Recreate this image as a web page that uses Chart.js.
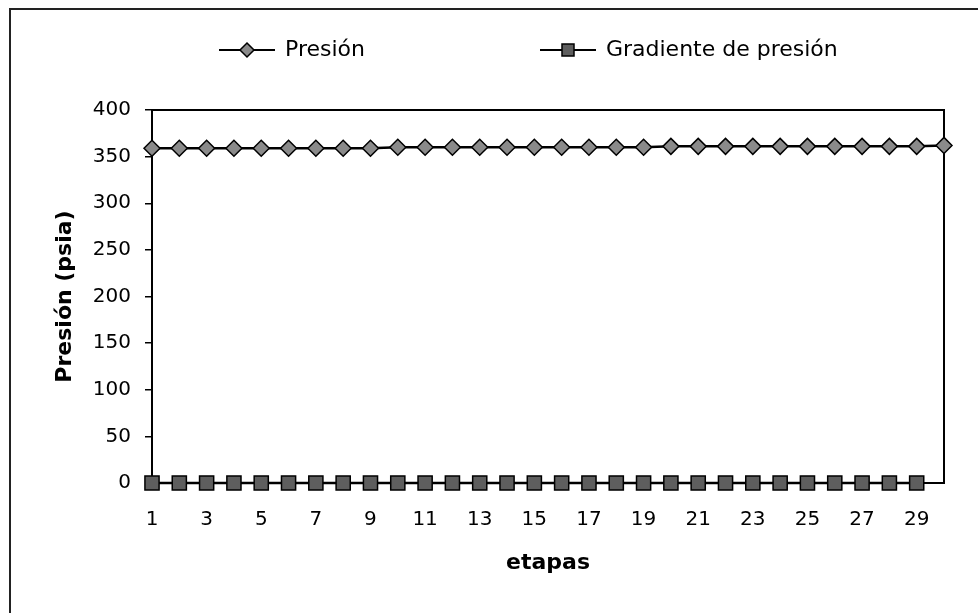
<!DOCTYPE html>
<html>
<head>
<meta charset="utf-8">
<script src="https://cdn.jsdelivr.net/npm/chart.js@4.4.1/dist/chart.umd.min.js"></script>
<style>
  html, body { margin: 0; padding: 0; background: #fff; }
  canvas { display: block; }
</style>
</head>
<body>
<canvas id="c" width="978" height="613"></canvas>
<script>
const etapas = [1,2,3,4,5,6,7,8,9,10,11,12,13,14,15,16,17,18,19,20,21,22,23,24,25,26,27,28,29,30];
const presion = [359,359,359,359,359,359,359,359,359,360,360,360,360,360,360,360,360,360,360,361,361,361,361,361,361,361,361,361,361,362];
const gradiente = [0,0,0,0,0,0,0,0,0,0,0,0,0,0,0,0,0,0,0,0,0,0,0,0,0,0,0,0,0];
const yTicks = [0,50,100,150,200,250,300,350,400];
const seriesNames = ['Presión', 'Gradiente de presión'];

const FONT = 'DejaVu Sans';

function makeIcon(kind) {
  const c = document.createElement('canvas');
  c.width = 56; c.height = 20;
  const g = c.getContext('2d');
  g.strokeStyle = '#000'; g.lineWidth = 2;
  g.beginPath(); g.moveTo(0, 10); g.lineTo(56, 10); g.stroke();
  g.lineWidth = 1.5;
  if (kind === 'diamond') {
    g.fillStyle = '#8a8a8a';
    g.beginPath(); g.moveTo(28, 3); g.lineTo(35, 10); g.lineTo(28, 17); g.lineTo(21, 10); g.closePath();
    g.fill(); g.stroke();
  } else {
    g.fillStyle = '#5e5e5e';
    g.beginPath(); g.rect(22, 4, 12, 12); g.fill(); g.stroke();
  }
  return c;
}
const icons = [makeIcon('diamond'), makeIcon('square')];

const LEG_PAD = 176;

const framePlugin = {
  id: 'frame',
  beforeInit(chart) {
    const orig = chart.legend.fit;
    chart.legend.fit = function () { orig.call(this); this.height = 110; };
  },
  afterLayout(chart) {
    const lg = chart.legend;
    lg.left = 220 - LEG_PAD;
    lg.right = 5000;
    lg.top = 50 - 11 - LEG_PAD;
  },
  beforeDraw(chart) {
    const ctx = chart.ctx;
    ctx.save();
    ctx.strokeStyle = '#222'; ctx.lineWidth = 2;
    ctx.beginPath(); ctx.moveTo(10, 613); ctx.lineTo(10, 9); ctx.lineTo(978, 9); ctx.stroke();
    ctx.restore();
  },
  beforeDatasetsDraw(chart) {
    const {ctx, chartArea: a} = chart;
    ctx.save();
    ctx.strokeStyle = '#000'; ctx.lineWidth = 2;
    ctx.beginPath(); ctx.moveTo(a.left, a.top); ctx.lineTo(a.right, a.top); ctx.lineTo(a.right, a.bottom); ctx.stroke();
    ctx.restore();
  }
};

new Chart(document.getElementById('c'), {
  type: 'line',
  data: {
    labels: etapas,
    datasets: [
      { label: seriesNames[0], data: presion, borderColor: '#000', borderWidth: 2.5,
        pointStyle: 'rectRot', pointRadius: 8, pointBackgroundColor: '#8a8a8a',
        pointBorderColor: '#000', pointBorderWidth: 1.5, clip: false, tension: 0 },
      { label: seriesNames[1], data: gradiente, borderColor: '#000', borderWidth: 2.5,
        pointStyle: 'rect', pointRadius: 10, pointBackgroundColor: '#5e5e5e',
        pointBorderColor: '#000', pointBorderWidth: 1.5, clip: false, tension: 0 }
    ]
  },
  options: {
    responsive: false,
    animation: false,
    devicePixelRatio: 1,
    layout: { padding: { left: 48, right: 34, top: 0, bottom: 0 } },
    plugins: {
      tooltip: { enabled: false },
      legend: {
        position: 'top',
        align: 'start',
        labels: {
          usePointStyle: true,
          pointStyleWidth: 54,
          padding: LEG_PAD,
          color: '#000',
          font: { family: FONT, size: 22 },
          generateLabels(chart) {
            const items = Chart.defaults.plugins.legend.labels.generateLabels(chart);
            items.forEach((it, i) => { it.pointStyle = icons[i]; });
            return items;
          }
        }
      }
    },
    scales: {
      x: {
        type: 'category',
        offset: false,
        grid: { display: false, drawTicks: false },
        border: { display: true, color: '#000', width: 2 },
        ticks: {
          autoSkip: false, maxRotation: 0, padding: 25, color: '#000',
          font: { family: FONT, size: 20 },
          callback(val, idx) { return idx % 2 === 0 ? this.getLabelForValue(val) : ''; }
        },
        title: { display: true, text: 'etapas', color: '#000',
          font: { family: FONT, size: 22, weight: 'bold' }, padding: { top: 4, bottom: 37 } },
        afterFit(s) { s.height = 130; }
      },
      y: {
        min: 0, max: 400,
        afterBuildTicks(s) { s.ticks = yTicks.map(v => ({ value: v })); },
        grid: { display: true, drawOnChartArea: false, drawTicks: true, tickLength: 7, color: '#000', lineWidth: 1.5 },
        border: { display: true, color: '#000', width: 2 },
        ticks: { padding: 14, color: '#000', font: { family: FONT, size: 20 } },
        title: { display: true, text: 'Presión (psia)', color: '#000',
          font: { family: FONT, size: 22, weight: 'bold' }, padding: { top: 4, bottom: 4 } },
        afterFit(s) { s.width = 104; }
      }
    }
  },
  plugins: [framePlugin]
});
</script>
</body>
</html>
